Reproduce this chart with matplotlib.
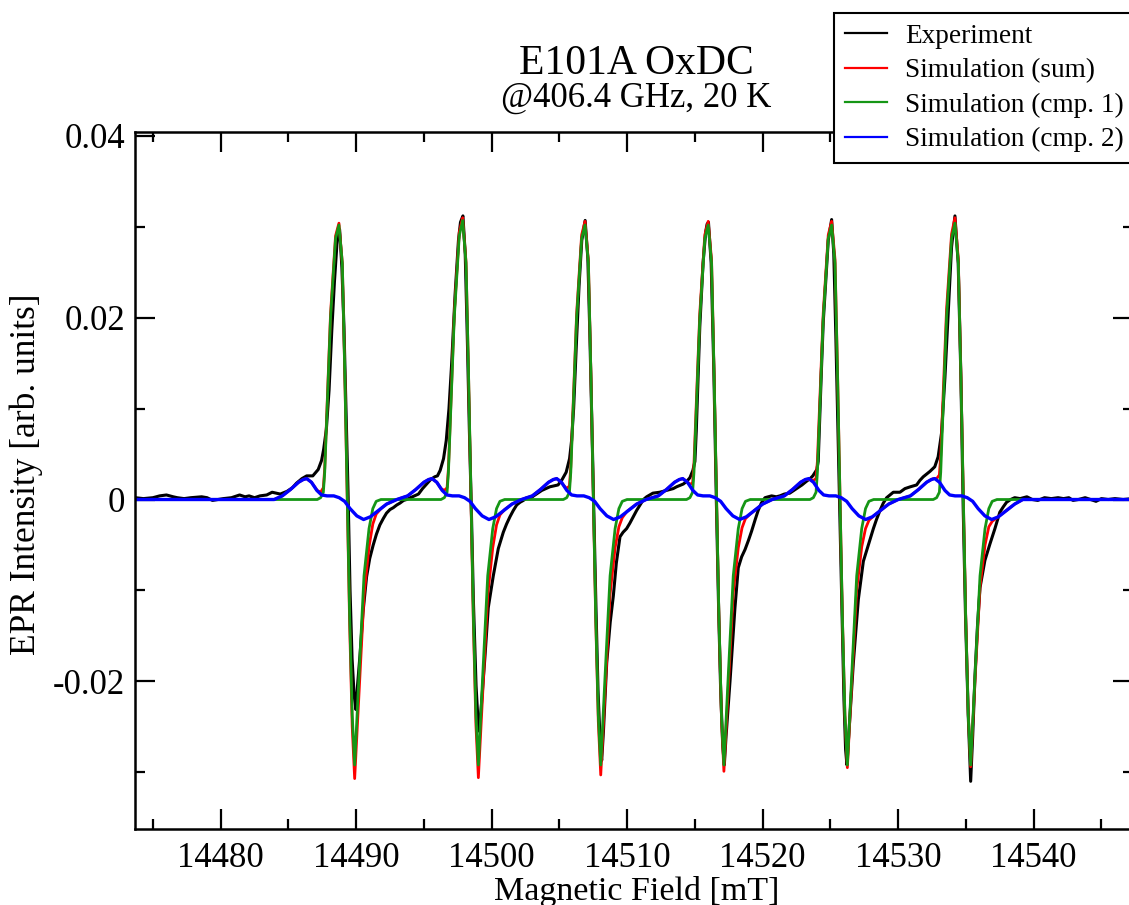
import matplotlib
matplotlib.use("Agg")
import matplotlib.pyplot as plt
from matplotlib.ticker import MultipleLocator, FuncFormatter

plt.rcParams['font.family'] = ['Liberation Serif', 'DejaVu Serif']
plt.rcParams['axes.unicode_minus'] = False

# Experiment (black)
exp_field = [
    14473.7, 14474.3, 14475.0, 14475.5, 14476.0, 14476.5, 14476.8, 14477.3, 14477.8, 14478.6,
    14479.0, 14479.4, 14479.8, 14480.2, 14480.8, 14481.4, 14481.8, 14482.1, 14482.5, 14482.9,
    14483.4, 14483.8, 14484.1, 14484.4, 14484.9, 14485.3, 14485.6, 14486.0, 14486.35, 14486.8,
    14487.2, 14487.45, 14487.6, 14487.8, 14488.0, 14488.2, 14488.4, 14488.6, 14488.78, 14488.95,
    14489.1, 14489.25, 14489.4, 14489.55, 14489.7, 14489.85, 14489.98, 14490.1, 14490.28, 14490.5,
    14490.77, 14491.0, 14491.26, 14491.5, 14491.75, 14492.0, 14492.24, 14492.5, 14492.74, 14493.0,
    14493.23, 14493.5, 14493.72, 14494.0, 14494.3, 14494.6, 14494.9, 14495.2, 14495.5, 14495.8,
    14496.0, 14496.2, 14496.45, 14496.65, 14496.85, 14497.05, 14497.3, 14497.55, 14497.7, 14497.88,
    14498.05, 14498.2, 14498.35, 14498.5, 14498.65, 14498.85, 14499.0, 14499.09, 14499.25, 14499.51,
    14499.75, 14500.12, 14500.49, 14500.86, 14501.1, 14501.35, 14501.6, 14501.85, 14502.1, 14502.34,
    14502.6, 14502.83, 14503.1, 14503.4, 14503.7, 14504.0, 14504.3, 14504.6, 14504.9, 14505.2,
    14505.5, 14505.75, 14505.9, 14506.05, 14506.25, 14506.45, 14506.65, 14506.9, 14507.1, 14507.25,
    14507.4, 14507.55, 14507.7, 14507.85, 14508.0, 14508.12, 14508.25, 14508.49, 14508.75, 14508.98,
    14509.2, 14509.47, 14509.7, 14509.96, 14510.2, 14510.45, 14510.7, 14510.95, 14511.2, 14511.44,
    14511.9, 14512.4, 14512.9, 14513.4, 14513.65, 14514.14, 14514.4, 14514.63, 14514.85, 14515.0,
    14515.1, 14515.36, 14515.6, 14515.8, 14515.9, 14516.0, 14516.2, 14516.3, 14516.4, 14516.58,
    14516.75, 14516.9, 14517.05, 14517.17, 14517.3, 14517.59, 14517.95, 14518.2, 14518.45, 14518.7,
    14518.95, 14519.18, 14519.45, 14519.67, 14519.9, 14520.17, 14520.66, 14521.0, 14521.27, 14521.6,
    14522.0, 14522.3, 14522.6, 14522.9, 14523.23, 14523.5, 14523.7, 14524.0, 14524.1, 14524.2,
    14524.33, 14524.47, 14524.84, 14525.09, 14525.25, 14525.4, 14525.55, 14525.7, 14525.85, 14526.0,
    14526.12, 14526.22, 14526.35, 14526.69, 14527.06, 14527.43, 14527.8, 14528.17, 14528.4, 14528.66,
    14528.9, 14529.15, 14529.4, 14529.64, 14530.13, 14530.5, 14530.9, 14531.36, 14531.6, 14531.85,
    14532.1, 14532.35, 14532.7, 14532.95, 14533.2, 14533.45, 14533.7, 14533.94, 14534.19, 14534.43,
    14534.63, 14534.8, 14534.97, 14535.17, 14535.35, 14535.5, 14535.67, 14535.85, 14536.04, 14536.4,
    14536.77, 14537.14, 14537.5, 14537.76, 14538.0, 14538.3, 14538.6, 14539.0, 14539.5, 14539.9,
    14540.3, 14540.8, 14541.3, 14541.8, 14542.2, 14542.6, 14542.9, 14543.3, 14543.8, 14544.2,
    14544.6, 14545.0, 14545.5, 14546.0, 14546.6, 14547.3]
exp_int = [
    0.0002, 0.0001, 0.0002, 0.0004, 0.0005, 0.0003, 0.0002, 0.0001, 0.0002, 0.0003,
    0.0002, -0.0001, 0.0000, 0.0001, 0.0002, 0.0005, 0.0003, 0.0004, 0.0002, 0.0004,
    0.0005, 0.0008, 0.0007, 0.0006, 0.0009, 0.0013, 0.0018, 0.0023, 0.0026, 0.0026,
    0.0033, 0.0043, 0.0055, 0.0077, 0.0120, 0.0185, 0.0240, 0.0285, 0.0297, 0.0255,
    0.0190, 0.0100, 0.0010, -0.0100, -0.0175, -0.0215, -0.0231, -0.0205, -0.0172, -0.0125,
    -0.0085, -0.0065, -0.0050, -0.0038, -0.0028, -0.0021, -0.0015, -0.0011, -0.0009, -0.0006,
    -0.0004, -0.0001, 0.0000, 0.0002, 0.0004, 0.0006, 0.0012, 0.0017, 0.0022, 0.0025,
    0.0026, 0.0032, 0.0045, 0.0065, 0.0100, 0.0150, 0.0225, 0.0285, 0.0305, 0.0312,
    0.0270, 0.0180, 0.0080, -0.0010, -0.0110, -0.0205, -0.0245, -0.0255, -0.0225, -0.0172,
    -0.0119, -0.0084, -0.0054, -0.0036, -0.0027, -0.0019, -0.0012, -0.0006, -0.0003, -0.0001,
    0.0002, 0.0001, 0.0004, 0.0007, 0.0010, 0.0012, 0.0014, 0.0015, 0.0016, 0.0022,
    0.0030, 0.0045, 0.0065, 0.0100, 0.0170, 0.0235, 0.0285, 0.0307, 0.0265, 0.0180,
    0.0080, -0.0020, -0.0120, -0.0210, -0.0265, -0.0287, -0.0255, -0.0180, -0.0135, -0.0106,
    -0.0070, -0.0041, -0.0036, -0.0032, -0.0026, -0.0019, -0.0012, -0.0006, 0.0000, 0.0003,
    0.0007, 0.0008, 0.0010, 0.0012, 0.0014, 0.0017, 0.0020, 0.0024, 0.0032, 0.0042,
    0.0075, 0.0190, 0.0260, 0.0295, 0.0303, 0.0305, 0.0260, 0.0200, 0.0140, 0.0000,
    -0.0120, -0.0210, -0.0270, -0.0292, -0.0260, -0.0200, -0.0120, -0.0075, -0.0063, -0.0055,
    -0.0045, -0.0035, -0.0022, -0.0012, -0.0004, 0.0002, 0.0004, 0.0003, 0.0004, 0.0006,
    0.0007, 0.0010, 0.0013, 0.0016, 0.0020, 0.0023, 0.0026, 0.0033, 0.0042, 0.0085,
    0.0140, 0.0195, 0.0285, 0.0308, 0.0270, 0.0180, 0.0080, -0.0020, -0.0120, -0.0220,
    -0.0275, -0.0292, -0.0260, -0.0180, -0.0110, -0.0068, -0.0050, -0.0032, -0.0022, -0.0012,
    -0.0004, 0.0002, 0.0005, 0.0008, 0.0008, 0.0012, 0.0014, 0.0016, 0.0021, 0.0025,
    0.0028, 0.0031, 0.0036, 0.0047, 0.0073, 0.0134, 0.0208, 0.0278, 0.0312, 0.0260,
    0.0134, -0.0010, -0.0128, -0.0237, -0.0310, -0.0260, -0.0194, -0.0140, -0.0097, -0.0067,
    -0.0049, -0.0032, -0.0014, -0.0008, -0.0003, 0.0000, 0.0002, 0.0001, 0.0003, 0.0000,
    -0.0001, 0.0002, 0.0001, 0.0002, 0.0001, 0.0002, -0.0001, 0.0000, 0.0002, 0.0000,
    -0.0002, 0.0001, 0.0000, 0.0001, 0.0000, 0.0001]

# Simulation (sum), red
sum_field = [
    14473.7, 14483.95, 14484.55, 14485.15, 14485.75, 14486.1, 14486.35, 14486.7,
    14487.13, 14487.38, 14487.58, 14487.68, 14487.83, 14488.11, 14488.48, 14488.73, 14488.98, 14489.17,
    14489.35, 14489.52, 14489.71, 14489.89, 14490.21, 14490.58, 14490.95, 14491.23, 14491.48, 14491.83,
    14492.25, 14493.0, 14493.8, 14494.4, 14495.0, 14495.35, 14495.6, 14495.95,
    14496.26, 14496.51, 14496.71, 14496.81, 14496.96, 14497.24, 14497.61, 14497.86, 14498.11, 14498.30,
    14498.48, 14498.65, 14498.84, 14499.02, 14499.34, 14499.71, 14500.08, 14500.36, 14500.61, 14500.96,
    14501.5, 14502.2, 14503.0, 14503.6, 14504.2, 14504.55, 14504.8, 14505.15,
    14505.29, 14505.54, 14505.74, 14505.84, 14505.99, 14506.27, 14506.64, 14506.89, 14507.14, 14507.33,
    14507.51, 14507.68, 14507.87, 14508.05, 14508.37, 14508.74, 14509.11, 14509.39, 14509.64, 14509.99,
    14510.7, 14511.4, 14512.3, 14512.9, 14513.5, 14513.85, 14514.1,
    14514.38, 14514.63, 14514.83, 14514.93, 14515.08, 14515.36, 14515.73, 14515.98, 14516.23, 14516.42,
    14516.60, 14516.77, 14516.96, 14517.14, 14517.46, 14517.83, 14518.20, 14518.48, 14518.73, 14519.08,
    14519.4, 14520.0, 14520.7, 14521.6, 14522.2, 14522.8, 14523.15,
    14523.49, 14523.74, 14523.94, 14524.04, 14524.19, 14524.47, 14524.84, 14525.09, 14525.34, 14525.53,
    14525.71, 14525.88, 14526.07, 14526.25, 14526.57, 14526.94, 14527.31, 14527.59, 14527.84, 14528.19,
    14528.7, 14529.3, 14530.0, 14530.9, 14531.5, 14532.1, 14532.45,
    14532.59, 14532.84, 14533.04, 14533.14, 14533.29, 14533.57, 14533.94, 14534.19, 14534.44, 14534.63,
    14534.81, 14534.98, 14535.17, 14535.35, 14535.67, 14536.04, 14536.41, 14536.69, 14536.94, 14537.29,
    14538.0, 14538.6, 14539.2, 14547.3]
sum_int = [
    0.0, 0.0, 0.0004, 0.0011, 0.0019, 0.0022, 0.0023, 0.0019,
    0.0010, 0.0008, 0.0013, 0.0034, 0.0094, 0.0204, 0.0290, 0.0304, 0.0260, 0.0132,
    -0.0006, -0.0137, -0.0250, -0.0307, -0.0213, -0.0106, -0.0052, -0.0027, -0.0016, -0.0010,
    -0.0005, 0.0, 0.0004, 0.0011, 0.0019, 0.0022, 0.0023, 0.0019,
    0.0012, 0.0010, 0.0013, 0.0034, 0.0094, 0.0204, 0.0294, 0.0310, 0.0261, 0.0133,
    -0.0004, -0.0135, -0.0248, -0.0306, -0.0212, -0.0105, -0.0053, -0.0028, -0.0017, -0.0011,
    -0.0005, 0.0, 0.0004, 0.0011, 0.0019, 0.0022, 0.0023, 0.0019,
    0.0016, 0.0012, 0.0015, 0.0036, 0.0095, 0.0204, 0.0291, 0.0306, 0.0262, 0.0135,
    -0.0001, -0.0132, -0.0244, -0.0303, -0.0210, -0.0104, -0.0053, -0.0030, -0.0020, -0.0013,
    -0.0005, 0.0, 0.0004, 0.0011, 0.0019, 0.0022, 0.0023,
    0.0020, 0.0017, 0.0018, 0.0039, 0.0097, 0.0205, 0.0291, 0.0306, 0.0263, 0.0136,
    0.0001, -0.0129, -0.0240, -0.0299, -0.0207, -0.0102, -0.0053, -0.0031, -0.0021, -0.0016,
    -0.0012, -0.0005, 0.0, 0.0004, 0.0011, 0.0019, 0.0022,
    0.0022, 0.0021, 0.0023, 0.0042, 0.0099, 0.0205, 0.0291, 0.0306, 0.0264, 0.0137,
    0.0002, -0.0127, -0.0238, -0.0295, -0.0203, -0.0099, -0.0052, -0.0032, -0.0023, -0.0018,
    -0.0012, -0.0005, 0.0, 0.0004, 0.0011, 0.0019, 0.0022,
    0.0023, 0.0023, 0.0027, 0.0048, 0.0104, 0.0209, 0.0292, 0.0310, 0.0264, 0.0137,
    0.0003, -0.0125, -0.0236, -0.0294, -0.0199, -0.0096, -0.0050, -0.0030, -0.0024, -0.0020,
    -0.0012, -0.0005, 0.0, 0.0]

# Simulation component 1, green
cmp1_field = [
    14473.7,
    14487.13, 14487.38, 14487.58, 14487.68, 14487.83, 14488.11, 14488.48, 14488.73, 14488.98, 14489.17,
    14489.35, 14489.52, 14489.71, 14489.89, 14490.21, 14490.58, 14490.95, 14491.23, 14491.48, 14491.83,
    14496.26, 14496.51, 14496.71, 14496.81, 14496.96, 14497.24, 14497.61, 14497.86, 14498.11, 14498.30,
    14498.48, 14498.65, 14498.84, 14499.02, 14499.34, 14499.71, 14500.08, 14500.36, 14500.61, 14500.96,
    14505.29, 14505.54, 14505.74, 14505.84, 14505.99, 14506.27, 14506.64, 14506.89, 14507.14, 14507.33,
    14507.51, 14507.68, 14507.87, 14508.05, 14508.37, 14508.74, 14509.11, 14509.39, 14509.64, 14509.99,
    14514.38, 14514.63, 14514.83, 14514.93, 14515.08, 14515.36, 14515.73, 14515.98, 14516.23, 14516.42,
    14516.60, 14516.77, 14516.96, 14517.14, 14517.46, 14517.83, 14518.20, 14518.48, 14518.73, 14519.08,
    14523.49, 14523.74, 14523.94, 14524.04, 14524.19, 14524.47, 14524.84, 14525.09, 14525.34, 14525.53,
    14525.71, 14525.88, 14526.07, 14526.25, 14526.57, 14526.94, 14527.31, 14527.59, 14527.84, 14528.19,
    14532.59, 14532.84, 14533.04, 14533.14, 14533.29, 14533.57, 14533.94, 14534.19, 14534.44, 14534.63,
    14534.81, 14534.98, 14535.17, 14535.35, 14535.67, 14536.04, 14536.41, 14536.69, 14536.94, 14537.29,
    14547.3]
cmp1_int = [
    0.0,
    0.0, 0.0002, 0.0008, 0.0030, 0.0090, 0.0200, 0.0287, 0.0302, 0.0260, 0.0134,
    0.0, -0.0128, -0.0237, -0.0292, -0.0194, -0.0084, -0.0032, -0.0010, -0.0002, 0.0,
    0.0, 0.0002, 0.0008, 0.0030, 0.0090, 0.0200, 0.0290, 0.0307, 0.0260, 0.0134,
    0.0, -0.0128, -0.0237, -0.0292, -0.0194, -0.0084, -0.0032, -0.0010, -0.0002, 0.0,
    0.0, 0.0002, 0.0008, 0.0030, 0.0090, 0.0200, 0.0287, 0.0302, 0.0260, 0.0134,
    0.0, -0.0128, -0.0237, -0.0292, -0.0194, -0.0084, -0.0032, -0.0010, -0.0002, 0.0,
    0.0, 0.0002, 0.0008, 0.0030, 0.0090, 0.0200, 0.0287, 0.0302, 0.0260, 0.0134,
    0.0, -0.0128, -0.0237, -0.0292, -0.0194, -0.0084, -0.0032, -0.0010, -0.0002, 0.0,
    0.0, 0.0002, 0.0008, 0.0030, 0.0090, 0.0200, 0.0287, 0.0302, 0.0260, 0.0134,
    0.0, -0.0128, -0.0237, -0.0292, -0.0194, -0.0084, -0.0032, -0.0010, -0.0002, 0.0,
    0.0, 0.0002, 0.0008, 0.0030, 0.0090, 0.0200, 0.0287, 0.0304, 0.0260, 0.0134,
    0.0, -0.0128, -0.0237, -0.0292, -0.0194, -0.0084, -0.0032, -0.0010, -0.0002, 0.0,
    0.0]

# Simulation component 2, blue
cmp2_field = [
    14473.7, 14483.95,
    14484.55, 14485.15, 14485.75, 14486.1, 14486.35, 14486.7, 14487.1, 14487.45, 14487.85, 14488.35,
    14488.75, 14489.15, 14489.55, 14490.05, 14490.55, 14491.05, 14491.65, 14492.25, 14493.0,
    14493.8, 14494.4, 14495.0, 14495.35, 14495.6, 14495.95, 14496.35, 14496.7, 14497.1, 14497.6,
    14498.0, 14498.4, 14498.8, 14499.3, 14499.8, 14500.3, 14500.9, 14501.5, 14502.2,
    14503.0, 14503.6, 14504.2, 14504.55, 14504.8, 14505.15, 14505.55, 14505.9, 14506.3, 14506.8,
    14507.2, 14507.6, 14508.0, 14508.5, 14509.0, 14509.5, 14510.1, 14510.7, 14511.4,
    14512.3, 14512.9, 14513.5, 14513.85, 14514.1, 14514.45, 14514.85, 14515.2, 14515.6, 14516.1,
    14516.5, 14516.9, 14517.3, 14517.8, 14518.3, 14518.8, 14519.4, 14520.0, 14520.7,
    14521.6, 14522.2, 14522.8, 14523.15, 14523.4, 14523.75, 14524.15, 14524.5, 14524.9, 14525.4,
    14525.8, 14526.2, 14526.6, 14527.1, 14527.6, 14528.1, 14528.7, 14529.3, 14530.0,
    14530.9, 14531.5, 14532.1, 14532.45, 14532.7, 14533.05, 14533.45, 14533.8, 14534.2, 14534.7,
    14535.1, 14535.5, 14535.9, 14536.4, 14536.9, 14537.4, 14538.0, 14538.6, 14539.2,
    14547.3]
cmp2_int = [
    0.0, 0.0,
    0.0004, 0.0011, 0.0019, 0.0022, 0.0023, 0.0019, 0.0010, 0.0005, 0.0004, 0.0004,
    0.0002, -0.0002, -0.0010, -0.0018, -0.0022, -0.0019, -0.0012, -0.0005, 0.0,
    0.0004, 0.0011, 0.0019, 0.0022, 0.0023, 0.0019, 0.0010, 0.0005, 0.0004, 0.0004,
    0.0002, -0.0002, -0.0010, -0.0018, -0.0022, -0.0019, -0.0012, -0.0005, 0.0,
    0.0004, 0.0011, 0.0019, 0.0022, 0.0023, 0.0019, 0.0010, 0.0005, 0.0004, 0.0004,
    0.0002, -0.0002, -0.0010, -0.0018, -0.0022, -0.0019, -0.0012, -0.0005, 0.0,
    0.0004, 0.0011, 0.0019, 0.0022, 0.0023, 0.0019, 0.0010, 0.0005, 0.0004, 0.0004,
    0.0002, -0.0002, -0.0010, -0.0018, -0.0022, -0.0019, -0.0012, -0.0005, 0.0,
    0.0004, 0.0011, 0.0019, 0.0022, 0.0023, 0.0019, 0.0010, 0.0005, 0.0004, 0.0004,
    0.0002, -0.0002, -0.0010, -0.0018, -0.0022, -0.0019, -0.0012, -0.0005, 0.0,
    0.0004, 0.0011, 0.0019, 0.0022, 0.0023, 0.0019, 0.0010, 0.0005, 0.0004, 0.0004,
    0.0002, -0.0002, -0.0010, -0.0018, -0.0022, -0.0019, -0.0012, -0.0005, 0.0,
    0.0]

series_labels = ['Experiment', 'Simulation (sum)', 'Simulation (cmp. 1)', 'Simulation (cmp. 2)']

W, H = 1129, 905
fig = plt.figure(figsize=(W / 100, H / 100), dpi=100)
ax = fig.add_axes([135 / W, 1 - 829.3 / H, (1133 - 135) / W, (829.3 - 132) / H])

ax.plot(exp_field, exp_int, color='black', lw=2.2, label=series_labels[0])
ax.plot(sum_field, sum_int, color='#ff0000', lw=2.0, label=series_labels[1])
ax.plot(cmp1_field, cmp1_int, color='#159615', lw=2.0, label=series_labels[2])
ax.plot(cmp2_field, cmp2_int, color='#0000ff', lw=2.4, label=series_labels[3])

ax.set_xlim(14473.68, 14547.33)
ax.set_ylim(-0.03628, 0.04043)

ax.xaxis.set_major_locator(MultipleLocator(10))
ax.xaxis.set_minor_locator(MultipleLocator(5))
ax.yaxis.set_major_locator(MultipleLocator(0.02))
ax.yaxis.set_minor_locator(MultipleLocator(0.01))
ax.xaxis.set_major_formatter(FuncFormatter(lambda v, p: '%d' % round(v)))
ax.yaxis.set_major_formatter(FuncFormatter(lambda v, p: '%g' % (round(v, 4) + 0.0)))

ax.tick_params(which='both', direction='in', top=True, right=True, width=1.6, labelsize=25)
ax.tick_params(which='major', length=14.4)
ax.tick_params(which='minor', length=7.2)
ax.tick_params(axis='x', pad=9)
ax.tick_params(axis='y', pad=7)
for s in ax.spines.values():
    s.set_linewidth(1.8)

# titles and axis labels placed in figure pixels
fig.text(636 / W, 1 - 74 / H, 'E101A OxDC', fontsize=30, ha='center', va='baseline')
fig.text(636 / W, 1 - 107 / H, '@406.4 GHz, 20 K', fontsize=25, ha='center', va='baseline')
fig.text(637 / W, 1 - 900 / H, 'Magnetic Field [mT]', fontsize=24.5, ha='center', va='baseline')
fig.text(26 / W, 1 - 474 / H, 'EPR Intensity [arb. units]', fontsize=25.5, rotation=90,
         ha='center', va='center')

handles, labels = ax.get_legend_handles_labels()
leg = fig.legend(handles, labels, loc='upper left', bbox_to_anchor=(834 / W, 1 - 13 / H),
                 bbox_transform=fig.transFigure, fontsize=19.6, frameon=True, fancybox=False,
                 edgecolor='black', framealpha=1, borderpad=0.4, handlelength=1.55,
                 handletextpad=0.65, labelspacing=0.34, borderaxespad=0)
leg.get_frame().set_linewidth(1.5)
for line in leg.get_lines():
    line.set_linewidth(1.6)

fig.savefig('out.png', dpi=100)
